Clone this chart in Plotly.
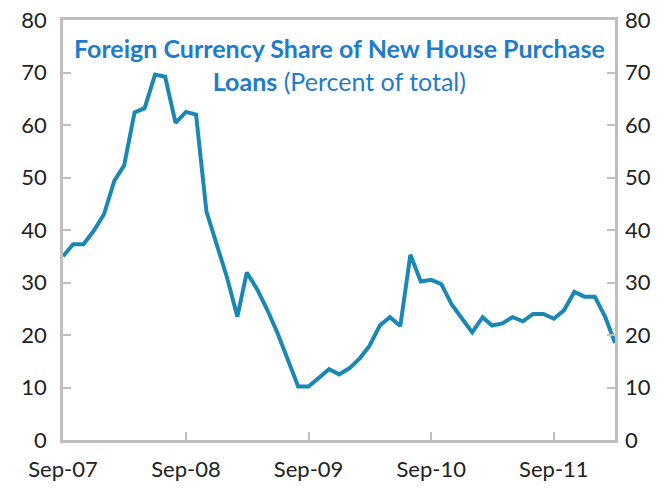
import plotly.graph_objects as go

months = ["2007-09","2007-10","2007-11","2007-12","2008-01","2008-02","2008-03","2008-04","2008-05","2008-06",
          "2008-07","2008-08","2008-09","2008-10","2008-11","2008-12","2009-01","2009-02","2009-03","2009-04",
          "2009-05","2009-06","2009-07","2009-08","2009-09","2009-10","2009-11","2009-12","2010-01","2010-02",
          "2010-03","2010-04","2010-05","2010-06","2010-07","2010-08","2010-09","2010-10","2010-11","2010-12",
          "2011-01","2011-02","2011-03","2011-04","2011-05","2011-06","2011-07","2011-08","2011-09","2011-10",
          "2011-11","2011-12","2012-01","2012-02","2012-03"]
share = [35.0, 37.3, 37.3, 39.8, 43.0, 49.4, 52.3, 62.4, 63.2, 69.6,
         69.2, 60.4, 62.5, 62.0, 43.5, 37.5, 31.0, 23.5, 31.9, 28.7,
         24.8, 20.3, 15.4, 10.2, 10.2, 11.9, 13.5, 12.5, 13.7, 15.6,
         17.9, 21.8, 23.4, 21.7, 35.3, 30.2, 30.5, 29.7, 25.8, 23.2,
         20.5, 23.4, 21.8, 22.2, 23.4, 22.6, 24.0, 24.0, 23.1, 24.7,
         28.2, 27.3, 27.3, 23.4, 18.5]
tick_vals = ["2007-09-01", "2008-09-01", "2009-09-01", "2010-09-01", "2011-09-01"]
tick_text = ["Sep-07", "Sep-08", "Sep-09", "Sep-10", "Sep-11"]
y_ticks = [0, 10, 20, 30, 40, 50, 60, 70, 80]

dates = [m + "-01" for m in months]
line_color = "#1a87b5"
axis_color = "#bfbfbf"
font_fam = "Lato, Open Sans, sans-serif"
tick_font = dict(size=22, family=font_fam, color="#222222")

fig = go.Figure()
fig.add_trace(go.Scatter(x=dates, y=share, mode="lines",
                         line=dict(color=line_color, width=4), showlegend=False))
fig.add_trace(go.Scatter(x=dates, y=share, mode="lines", yaxis="y2",
                         line=dict(color="rgba(0,0,0,0)", width=0), showlegend=False,
                         hoverinfo="skip"))

fig.update_layout(
    width=668, height=488,
    margin=dict(l=63, r=53, t=20, b=48),
    paper_bgcolor="white", plot_bgcolor="white",
    font=dict(family=font_fam, color="#222222", size=20),
    xaxis=dict(type="date", range=["2007-09-01", "2012-03-01"],
               tickvals=tick_vals, ticktext=tick_text, automargin=False,
               ticks="inside", ticklen=8, tickwidth=2, tickcolor=axis_color,
               showline=True, linecolor=axis_color, linewidth=2.5, mirror=True,
               showgrid=False, zeroline=False, ticklabelstandoff=8,
               tickfont=tick_font),
    yaxis=dict(range=[0, 80], tickvals=y_ticks, automargin=False,
               ticks="inside", ticklen=8, tickwidth=2, tickcolor=axis_color,
               showline=True, linecolor=axis_color, linewidth=2.5, mirror=True,
               showgrid=False, zeroline=False, ticklabelstandoff=9,
               tickfont=tick_font),
    yaxis2=dict(range=[0, 80], tickvals=y_ticks, overlaying="y", side="right",
                automargin=False,
                ticks="inside", ticklen=8, tickwidth=2, tickcolor=axis_color,
                showline=False, showgrid=False, zeroline=False, ticklabelstandoff=9,
                tickfont=tick_font),
)

fig.add_annotation(
    x=0.5, y=0.975, xref="paper", yref="paper", xanchor="center", yanchor="top",
    text="<b>Foreign Currency Share of New House Purchase</b><br><b>Loans</b> (Percent of total)",
    showarrow=False, align="center",
    font=dict(family=font_fam, size=25, color="#1f7cc8"),
)

fig.write_html("out.html", config={"displayModeBar": False},
               post_script="document.body.style.margin='0';document.body.style.overflow='hidden';")
